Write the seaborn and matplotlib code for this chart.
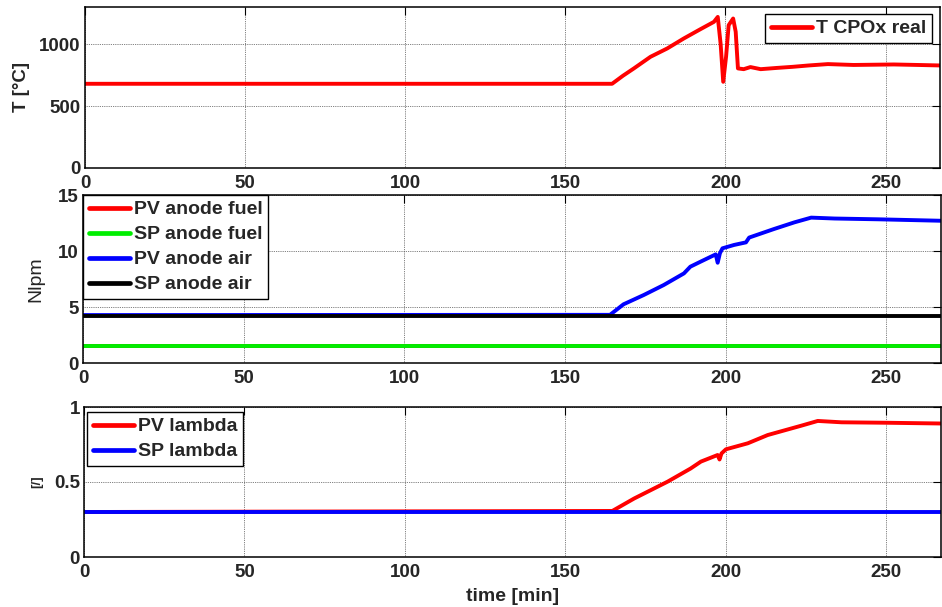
import numpy as np
import pandas as pd
import matplotlib
matplotlib.use("Agg")
import matplotlib.pyplot as plt
from matplotlib.ticker import FormatStrFormatter, FixedLocator
import seaborn as sns

# ---- data (time in minutes) ----
t_cpox = [0, 164.6, 168, 171.4, 176.6, 181.8, 187, 192.2, 196.4, 197.6, 198.5,
          199.3, 200.2, 201, 202.4, 203.2, 203.9, 205.7, 207.8, 211, 216, 221,
          226, 232, 240, 252.6, 260, 267]
T_cpox = [680, 680, 745, 804, 898, 965, 1046, 1121, 1180, 1220, 1000,
          696, 900, 1153, 1207, 1100, 804, 798, 815, 798, 808, 817,
          828, 839, 832, 836, 832, 828]

t_fuel = [0, 267]
pv_fuel = [1.5, 1.5]
sp_fuel = [1.5, 1.5]

t_air = [0, 164, 168.2, 174.5, 180.7, 187, 189, 192.2, 196.9, 197.5, 198.2,
         199, 202.6, 206.3, 207.3, 215, 221.4, 226.6, 233.9, 247.4, 267]
pv_air = [4.28, 4.3, 5.24, 6.07, 6.96, 8.0, 8.6, 9.05, 9.7, 8.95, 9.8,
          10.24, 10.54, 10.77, 11.2, 11.96, 12.56, 12.98, 12.9, 12.83, 12.7]
t_sp_air = [0, 267]
sp_air = [4.2, 4.2]

t_lam = [0, 164.6, 171.4, 181.8, 189, 192.2, 197.4, 198, 198.6, 200, 206.8,
         213, 223.4, 228.6, 236, 250, 267]
pv_lam = [0.3, 0.307, 0.39, 0.502, 0.59, 0.636, 0.68, 0.65, 0.69, 0.718, 0.758,
          0.813, 0.875, 0.907, 0.898, 0.895, 0.89]
t_sp_lam = [0, 267]
sp_lam = [0.3, 0.3]

x_ticks = [0, 50, 100, 150, 200, 250]

# ---- style ----
sns.set_theme(style="white")
plt.rcParams["font.family"] = ["Liberation Sans", "DejaVu Sans"]
plt.rcParams["axes.linewidth"] = 1.1
plt.rcParams["axes.edgecolor"] = "black"

W, H = 942, 607
fig = plt.figure(figsize=(W / 100, H / 100), dpi=100)


def add_axes(left, top, right, bottom):
    return fig.add_axes([left / W, 1 - bottom / H, (right - left) / W, (bottom - top) / H])


ax1 = add_axes(85, 7, 940, 168)
ax2 = add_axes(83, 195, 941, 363)
ax3 = add_axes(84, 407, 941, 557)

LW = 2.8


def line(ax, x, y, color, label):
    sns.lineplot(x=x, y=y, ax=ax, color=color, lw=LW, label=label,
                 estimator=None, sort=False, legend=False)


line(ax1, t_cpox, T_cpox, "#ff0000", "T CPOx real")

line(ax2, t_fuel, pv_fuel, "#ff0000", "PV anode fuel")
line(ax2, t_fuel, sp_fuel, "#00ee00", "SP anode fuel")
line(ax2, t_air, pv_air, "#0000ff", "PV anode air")
line(ax2, t_sp_air, sp_air, "#000000", "SP anode air")

line(ax3, t_lam, pv_lam, "#ff0000", "PV lambda")
line(ax3, t_sp_lam, sp_lam, "#0000ff", "SP lambda")

TICK_FS = 13.5

for ax, ylim, yt in [(ax1, (0, 1300), [0, 500, 1000]),
                     (ax2, (0, 15), [0, 5, 10, 15]),
                     (ax3, (0, 1), [0, 0.5, 1])]:
    ax.set_xlim(0, 267)
    ax.set_ylim(*ylim)
    ax.xaxis.set_major_locator(FixedLocator(x_ticks))
    ax.yaxis.set_major_locator(FixedLocator(yt))
    ax.yaxis.set_major_formatter(FormatStrFormatter("%g"))
    ax.tick_params(axis="both", which="major", direction="in", length=6, width=0.8,
                   top=True, right=True, color="black", labelsize=TICK_FS)
    ax.tick_params(axis="x", pad=5)
    ax.tick_params(axis="y", pad=3)
    for lab in ax.get_xticklabels() + ax.get_yticklabels():
        lab.set_fontweight("bold")
    ax.grid(True, color="#555555", lw=0.6, ls=(0, (1, 1.2)))
    ax.set_xlabel("")
    for s in ax.spines.values():
        s.set_visible(True)
        s.set_color("black")
        s.set_linewidth(1.1)

ax1.set_ylabel("T [°C]", fontsize=13.5, fontweight="bold")
ax1.yaxis.set_label_coords(-0.064, 0.5)
ax2.set_ylabel("Nlpm", fontsize=14)
ax2.yaxis.set_label_coords(-0.045, 0.5)
ax3.set_ylabel("[/]", fontsize=9.5, fontweight="bold")
ax3.yaxis.set_label_coords(-0.047, 0.5)
ax3.set_xlabel("time [min]", fontsize=14, fontweight="bold", labelpad=5)

leg_kw = dict(prop=dict(size=14, weight="bold"), frameon=True, fancybox=False,
              framealpha=1, edgecolor="black", borderaxespad=0, handlelength=2.1,
              handletextpad=0.2, labelspacing=0.38, borderpad=0.3)

lg1 = ax1.legend(loc="upper right", bbox_to_anchor=(0.9907, 0.9565), **leg_kw)
lg2 = ax2.legend(loc="upper left", bbox_to_anchor=(0.0, 1.0), **leg_kw)
lg3 = ax3.legend(loc="upper left", bbox_to_anchor=(0.004, 0.967), **leg_kw)
for lg in (lg1, lg2, lg3):
    lg.get_frame().set_linewidth(1.0)
    for h in lg.get_lines():
        h.set_linewidth(LW + 0.6)

fig.savefig("out.png", dpi=100, facecolor="white")
